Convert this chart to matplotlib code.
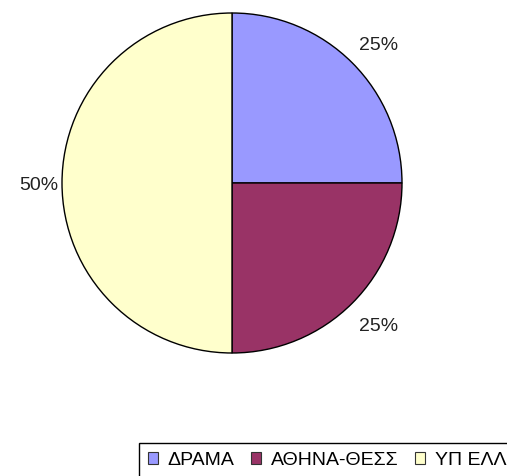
import matplotlib
matplotlib.use("Agg")
import matplotlib.pyplot as plt
import matplotlib.transforms as mtransforms

categories = ["ΔΡΑΜΑ", "ΑΘΗΝΑ-ΘΕΣΣ", "ΥΠ ΕΛΛ"]
shares = [25, 25, 50]
colors = ["#9999FF", "#993366", "#FFFFCC"]

W, H = 507, 476
fig = plt.figure(figsize=(W / 100, H / 100), dpi=100)
plt.rcParams["font.family"] = ["Liberation Sans", "DejaVu Sans"]

# pie occupies a square box centred at (232, 183) px with radius 170 px
cx, cy, r = 232, 183, 170
ax = fig.add_axes([(cx - r) / W, 1 - (cy + r) / H, 2 * r / W, 2 * r / H])
wedges, texts, autotexts = ax.pie(
    shares, colors=colors, startangle=90, counterclock=False,
    autopct="%1.0f%%", pctdistance=1.17, radius=1,
    wedgeprops=dict(edgecolor="black", linewidth=1.0),
    textprops=dict(fontsize=14, color="#222222"),
)
for t in autotexts:
    t.set_clip_on(False)
    t.set_transform(mtransforms.offset_copy(t.get_transform(), fig=fig,
                                            x=6, y=-3, units="dots"))
ax.set_xlim(-1, 1)
ax.set_ylim(-1, 1)
ax.set_aspect("equal")
ax.axis("off")

leg = fig.legend(
    wedges, categories, loc="upper left",
    bbox_to_anchor=(139 / W, 1 - 443 / H), borderaxespad=0,
    ncol=3, frameon=True, fancybox=False, edgecolor="black", framealpha=1,
    fontsize=14, handlelength=0.52, handleheight=0.52, handletextpad=0.5,
    columnspacing=0.85, borderpad=0.45,
)
leg.get_frame().set_linewidth(1.0)
for h in leg.legend_handles:
    h.set_edgecolor("#333333")
    h.set_linewidth(0.8)

fig.savefig("out.png", dpi=100)
